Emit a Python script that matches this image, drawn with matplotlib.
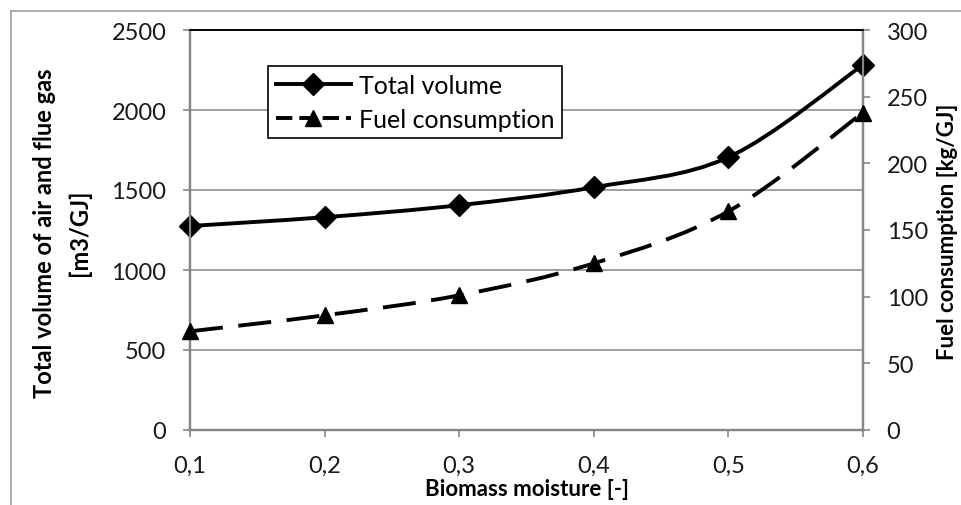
import numpy as np
import matplotlib
matplotlib.use('Agg')
from matplotlib import pyplot as plt
from matplotlib.path import Path
from matplotlib.patches import PathPatch
from matplotlib.lines import Line2D

# data
moisture = [0.1, 0.2, 0.3, 0.4, 0.5, 0.6]
total_volume = [1275, 1330, 1405, 1517, 1705, 2282]      # m3/GJ, left axis
fuel_consumption = [74, 86, 101, 125, 164, 238]          # kg/GJ, right axis
x_tick_labels = ['0,1', '0,2', '0,3', '0,4', '0,5', '0,6']
left_ticks = [0, 500, 1000, 1500, 2000, 2500]
right_ticks = [0, 50, 100, 150, 200, 250, 300]

plt.rcParams['font.family'] = ['Lato', 'DejaVu Sans']

GRAY = '#868686'
TXT = '#1a1a1a'
W, H = 961, 506


def smooth_path(xs, ys):
    # Excel-like smoothed line: one cubic Bezier per segment
    pts = np.column_stack([xs, ys]).astype(float)
    padded = np.vstack([pts[0], pts, pts[-1]])
    verts = [pts[0]]
    codes = [Path.MOVETO]
    for i in range(1, len(pts)):
        p0, p1, p2, p3 = padded[i - 1], padded[i], padded[i + 1], padded[i + 2]
        verts += [p1 + (p2 - p0) / 6, p2 - (p3 - p1) / 6, p2]
        codes += [Path.CURVE4] * 3
    return Path(verts, codes)


fig = plt.figure(figsize=(W / 100, H / 100), dpi=100)
ax = fig.add_axes([190 / W, 75 / H, 673 / W, 400 / H])
ax2 = ax.twinx()

lw = 2.8
dashes = (0, (8.5, 4.0))   # in units of line width

# total volume on the left axis
ax.add_patch(PathPatch(smooth_path(moisture, total_volume), fill=False,
                       edgecolor='black', lw=lw, capstyle='butt', zorder=3))
ax.plot(moisture, total_volume, ls='none', marker='D', ms=11, color='black',
        zorder=4, clip_on=False)

# fuel consumption on the right axis
fuel_line = PathPatch(smooth_path(moisture, fuel_consumption), fill=False,
                      edgecolor='black', lw=lw, zorder=3)
fuel_line.set_linestyle(dashes)
ax2.add_patch(fuel_line)
ax2.plot(moisture, fuel_consumption, ls='none', marker='^', ms=12, color='black',
         zorder=4, clip_on=False)

ax.set_xlim(0.1, 0.6)
ax.set_ylim(0, 2500)
ax2.set_ylim(0, 300)
ax.set_xticks(moisture)
ax.set_xticklabels(x_tick_labels)
ax.set_yticks(left_ticks)
ax2.set_yticks(right_ticks)

ax.grid(axis='y', color=GRAY, lw=1.1)
ax.set_axisbelow(True)

for a in (ax, ax2):
    for s in a.spines.values():
        s.set_color(GRAY)
        s.set_linewidth(1.6)
    a.spines['top'].set_color('black')
    a.spines['top'].set_linewidth(1.2)
    a.tick_params(direction='out', length=5, width=1.2, color=GRAY,
                  labelsize=17, labelcolor=TXT)

ax.tick_params(axis='y', pad=12)
ax.tick_params(axis='x', pad=13)
ax2.tick_params(axis='y', pad=12)

# legend
handles = [
    Line2D([], [], color='black', lw=lw, marker='D', ms=11),
    Line2D([], [], color='black', lw=lw, marker='^', ms=12, ls=(0, (4.2, 1.8))),
]
leg = ax2.legend(handles, ['Total volume', 'Fuel consumption'],
                 loc='upper left', bbox_to_anchor=(268 / W, 1 - 67 / H),
                 bbox_transform=fig.transFigure, fancybox=False, framealpha=1,
                 edgecolor='black', fontsize=18, handlelength=3.0,
                 borderpad=0.3, labelspacing=0.45, handletextpad=0.35,
                 borderaxespad=0)
leg.get_frame().set_linewidth(1.2)

# axis titles
fig.text(62 / W, 1 - 233 / H, 'Total volume of air and flue gas\n[m3/GJ]',
         rotation=90, ha='center', va='center', ma='center',
         fontsize=17, fontweight='bold', color='black', linespacing=1.6)
fig.text(948 / W, 1 - 232 / H, 'Fuel consumption [kg/GJ]', rotation=90,
         ha='center', va='center', fontsize=16, fontweight='bold', color='black')
fig.text(527 / W, 1 - 490 / H, 'Biomass moisture [-]', ha='center', va='center',
         fontsize=16, fontweight='bold', color='black')

# outer chart border (cut off at the right and bottom)
fig.add_artist(Line2D([11 / W, 11 / W], [0, 1 - 12 / H], color='#a0a0a0', lw=1.2))
fig.add_artist(Line2D([11 / W, 1], [1 - 12 / H, 1 - 12 / H], color='#a0a0a0', lw=1.2))

plt.savefig('out.png', dpi=100)
